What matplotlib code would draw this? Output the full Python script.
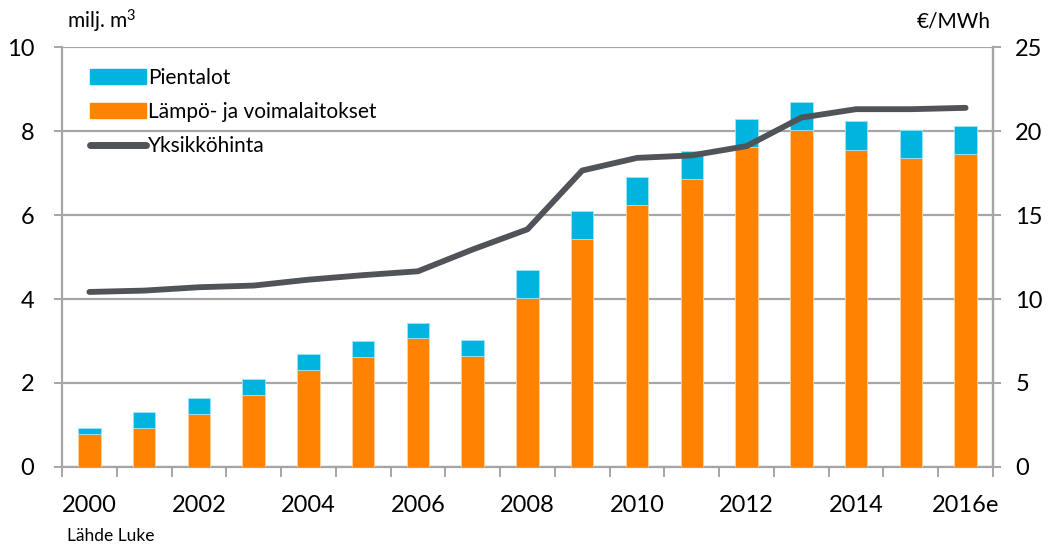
import matplotlib
matplotlib.use("Agg")
import matplotlib.pyplot as plt
import numpy as np
from matplotlib.lines import Line2D
from matplotlib.patches import Patch

plt.rcParams["font.family"] = ["Lato", "DejaVu Sans"]
plt.rcParams["mathtext.default"] = "regular"

years = ["2000", "2001", "2002", "2003", "2004", "2005", "2006", "2007", "2008",
         "2009", "2010", "2011", "2012", "2013", "2014", "2015", "2016e"]
# milj. m3
voimalaitokset = [0.78, 0.94, 1.26, 1.71, 2.30, 2.61, 3.06, 2.65, 4.03,
                  5.42, 6.24, 6.85, 7.63, 8.03, 7.56, 7.36, 7.46]
pientalot = [0.14, 0.38, 0.38, 0.38, 0.38, 0.38, 0.38, 0.38, 0.67,
             0.67, 0.67, 0.67, 0.66, 0.67, 0.67, 0.67, 0.67]
# €/MWh
hinta = [10.42, 10.5, 10.7, 10.8, 11.15, 11.42, 11.65, 12.95, 14.15,
         17.65, 18.4, 18.55, 19.1, 20.8, 21.3, 21.3, 21.38]

ORANGE = "#FF8200"
CYAN = "#00B4E0"
LINE = "#505357"
GRID = "#A6A6A6"

fig = plt.figure(figsize=(10.49, 5.47), dpi=100)
ax = fig.add_axes([0.0591, 0.1463, 0.8875, 0.7677])
x = np.arange(len(years))
ax.bar(x, voimalaitokset, width=0.41, color=ORANGE, edgecolor="#FFD0A0", linewidth=0.6, zorder=3)
ax.bar(x, pientalot, width=0.41, bottom=voimalaitokset, color=CYAN,
       edgecolor="#A0E4F5", linewidth=0.6, zorder=3)
ax.set_xlim(-0.5, len(years) - 0.5)
ax.set_ylim(0, 10)
ax.set_yticks([0, 2, 4, 6, 8, 10])
ax.yaxis.grid(True, color=GRID, lw=1.6, zorder=0)
ax.set_axisbelow(True)

# category boundary ticks, labels on every other year
ax.set_xticks(np.arange(-0.5, len(years)), labels=[""] * (len(years) + 1))
ax.set_xticks(x[::2], labels=years[::2], minor=True)
ax.tick_params(axis="x", which="major", length=7, width=1.4, color=GRID)
ax.tick_params(axis="x", which="minor", length=0, pad=20, labelsize=17)
ax.tick_params(axis="y", length=6, width=1.4, color=GRID, pad=14, labelsize=17)

ax.spines["top"].set_visible(False)
for s in ("left", "right", "bottom"):
    ax.spines[s].set_color(GRID)
    ax.spines[s].set_linewidth(1.6)

ax2 = ax.twinx()
ax2.plot(x, hinta, color=LINE, lw=4.2, solid_capstyle="round", zorder=4)
ax2.set_ylim(0, 25)
ax2.set_yticks([0, 5, 10, 15, 20, 25])
ax2.tick_params(axis="y", length=6, width=1.4, color=GRID, pad=10, labelsize=17)
for s in ("top", "left", "bottom"):
    ax2.spines[s].set_visible(False)
ax2.spines["right"].set_color(GRID)
ax2.spines["right"].set_linewidth(1.6)

handles = [Patch(color=CYAN, label="Pientalot"),
           Patch(color=ORANGE, label="Lämpö- ja voimalaitokset"),
           Line2D([], [], color=LINE, lw=5, solid_capstyle="round", label="Yksikköhinta")]
ax2.legend(handles=handles, loc="upper left", bbox_to_anchor=(0.01, 0.995),
           frameon=False, fontsize=15, handlelength=2.7, handleheight=0.75,
           handletextpad=0.1, labelspacing=0.68)

fig.text(0.064, 0.96, "milj. m$^{3}$", fontsize=15, va="center", ha="left")
fig.text(0.944, 0.96, "€/MWh", fontsize=15, va="center", ha="right")
fig.text(0.064, 0.005, "Lähde Luke", fontsize=12.5, va="bottom", ha="left")

fig.savefig("out.png", dpi=100)
